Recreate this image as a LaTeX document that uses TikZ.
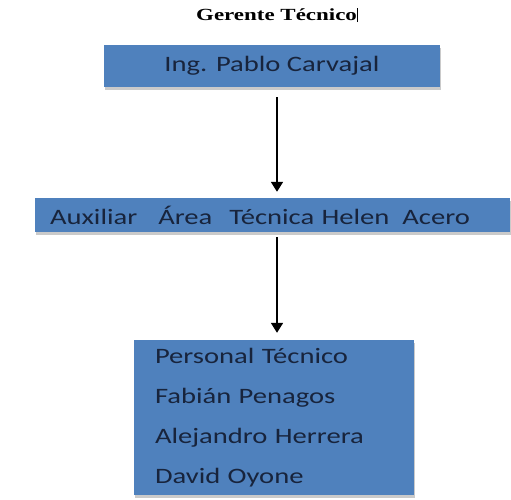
\documentclass[tikz,border=0pt]{standalone}
\usepackage{fontspec}
\usepackage{xcolor}
\usepackage{tikz}
\usetikzlibrary{arrows.meta}
\usetikzlibrary{shadows}
\newfontfamily\cargofont[FakeStretch=1.3]{Carlito}
\newfontfamily\titlefont[FakeStretch=1.35]{Liberation Serif}
\definecolor{cargoblue}{RGB}{79,129,189}
\definecolor{cargotext}{RGB}{24,36,60}
\tikzset{
  cargo/.style={fill=cargoblue, text=cargotext, font=\cargofont\fontsize{22}{26}\selectfont,
    inner sep=0pt, drop shadow={shadow xshift=1pt, shadow yshift=-3pt, fill=black!35, opacity=0.6}},
  link/.style={line width=1.8pt, -{Triangle[width=12pt,length=10pt]}}
}

\begin{document}
\begin{tikzpicture}[x=1pt,y=-1pt]
    \useasboundingbox (0,0) rectangle (511,499);
    \node (titulo) at (277,15) {\titlefont\bfseries\fontsize{17}{20}\selectfont Gerente Técnico\rule[-2pt]{0.9pt}{14pt}};
    \node[cargo, minimum width=336pt, minimum height=42pt] (gerente) at (272,66) {Ing. Pablo Carvajal};
    \node[cargo, minimum width=475pt, minimum height=34pt, text width=445pt,
      inner xsep=15pt, align=left] (auxiliar) at (272.5,215)
      {Auxiliar\hspace{21pt}Área\hspace{17pt}Técnica Helen\hspace{13pt}Acero};
    \node[cargo, minimum width=280pt, minimum height=155pt, text width=238pt,
      inner xsep=21pt, align=left] (personal) at (274,417.5)
      {Personal Técnico\\[14pt] Fabián Penagos\\[14pt] Alejandro Herrera\\[14pt] David Oyone};
    \draw[link, shorten <=10pt, shorten >=6pt]
      ([xshift=5pt]gerente.south) -- ([xshift=4.5pt]auxiliar.north);
    \draw[link, shorten <=5pt, shorten >=7pt]
      ([xshift=4.5pt]auxiliar.south) -- ([xshift=3pt]personal.north);
\end{tikzpicture}
\end{document}
